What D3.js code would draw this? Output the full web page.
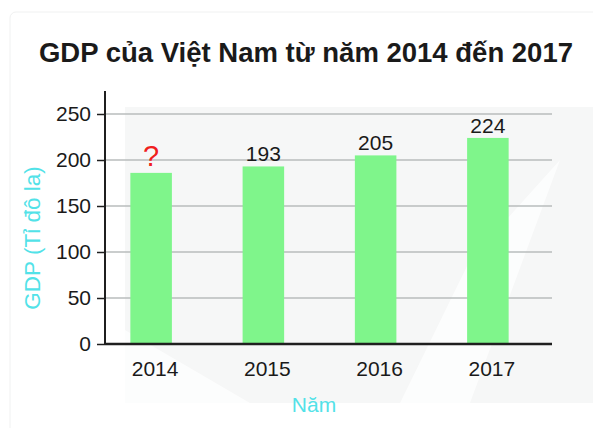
<!DOCTYPE html>
<html>
<head>
<meta charset="utf-8">
<script src="https://cdn.jsdelivr.net/npm/d3@7"></script>
<style>
  html, body { margin: 0; padding: 0; background: #ffffff; }
  svg { display: block; font-family: "Liberation Sans", Arial, sans-serif; }
</style>
</head>
<body>
<svg id="chart" width="593" height="428"></svg>
<script>
// GDP of Vietnam, 2014–2017 (billion USD)
const years = ["2014", "2015", "2016", "2017"];
const gdp = [186, 193, 205, 224];
const valueLabels = ["?", "193", "205", "224"];
const yTicks = [0, 50, 100, 150, 200, 250];

const title = "GDP của Việt Nam từ năm 2014 đến 2017";
const yTitle = "GDP (Tỉ đô la)";
const xTitle = "Năm";

const svg = d3.select("#chart");

const plot = { left: 105, right: 552, top: 91, bottom: 344 };

// soft card + shaded backdrop
svg.append("rect")
  .attr("x", 10).attr("y", 12).attr("width", 600).attr("height", 430)
  .attr("rx", 6).attr("fill", "#ffffff").attr("stroke", "#f0f1f1");
svg.append("rect")
  .attr("x", 125).attr("y", 107).attr("width", 470).attr("height", 296)
  .attr("fill", "#f6f7f7");
svg.append("path")
  .attr("d", "M125,330 L250,403 L125,403 Z M400,403 L470,260 L560,160 L470,403 Z")
  .attr("fill", "#ffffff").attr("opacity", 0.7);

const y = d3.scaleLinear().domain([0, 275]).range([plot.bottom, plot.top]);
const x = d3.scaleBand().domain(years).range([95, 544])
  .paddingInner(0.63).paddingOuter(0.315);

// horizontal grid
svg.append("g")
  .selectAll("line")
  .data(yTicks.filter(d => d > 0))
  .join("line")
  .attr("x1", plot.left).attr("x2", plot.right)
  .attr("y1", d => y(d)).attr("y2", d => y(d))
  .attr("stroke", "#b9bdbd").attr("stroke-width", 1.5);

// bars
svg.append("g")
  .selectAll("rect")
  .data(gdp)
  .join("rect")
  .attr("x", (d, i) => x(years[i]))
  .attr("y", d => y(d))
  .attr("width", x.bandwidth())
  .attr("height", d => y(0) - y(d))
  .attr("fill", "#7ff58b");

// value labels
svg.append("g")
  .selectAll("text")
  .data(gdp)
  .join("text")
  .attr("x", (d, i) => x(years[i]) + x.bandwidth() / 2)
  .attr("y", (d, i) => y(d) - (i === 0 ? 7 : 5))
  .attr("text-anchor", "middle")
  .attr("font-size", (d, i) => i === 0 ? 29 : 21)
  .attr("fill", (d, i) => i === 0 ? "#f0201c" : "#1a1a1a")
  .text((d, i) => valueLabels[i]);

// y axis
const yAxis = d3.axisLeft(y).tickValues(yTicks).tickSize(8).tickPadding(6);
const gy = svg.append("g").attr("transform", `translate(${plot.left},0)`).call(yAxis);
gy.select(".domain").attr("stroke", "#1f1f1f").attr("stroke-width", 2)
  .attr("d", `M0,${plot.top}V${plot.bottom + 1}`);
gy.selectAll(".tick line").attr("stroke", "#1f1f1f").attr("stroke-width", 1.5);
gy.selectAll(".tick text").attr("font-size", 21).attr("fill", "#1a1a1a")
  .attr("font-family", "Liberation Sans, Arial, sans-serif");

// x axis baseline and labels
const xAxis = d3.axisBottom(x).tickSize(0).tickPadding(17);
const gx = svg.append("g").attr("transform", `translate(0,${plot.bottom})`).call(xAxis);
gx.select(".domain").attr("stroke", "#1f1f1f").attr("stroke-width", 2.5)
  .attr("d", `M${plot.left},0H${plot.right}`);
gx.selectAll(".tick text").attr("font-size", 21).attr("fill", "#1a1a1a")
  .attr("dx", 4)
  .attr("font-family", "Liberation Sans, Arial, sans-serif");

// titles
svg.append("text")
  .attr("x", 306).attr("y", 62)
  .attr("text-anchor", "middle")
  .attr("font-size", 27.5).attr("font-weight", "bold").attr("fill", "#1a1a1a")
  .text(title);

svg.append("text")
  .attr("transform", "translate(40,238) rotate(-90)")
  .attr("text-anchor", "middle")
  .attr("font-size", 22.5).attr("fill", "#52e2e8")
  .text(yTitle);

svg.append("text")
  .attr("x", 314).attr("y", 412)
  .attr("text-anchor", "middle")
  .attr("font-size", 21).attr("fill", "#52e2e8")
  .text(xTitle);
</script>
</body>
</html>
